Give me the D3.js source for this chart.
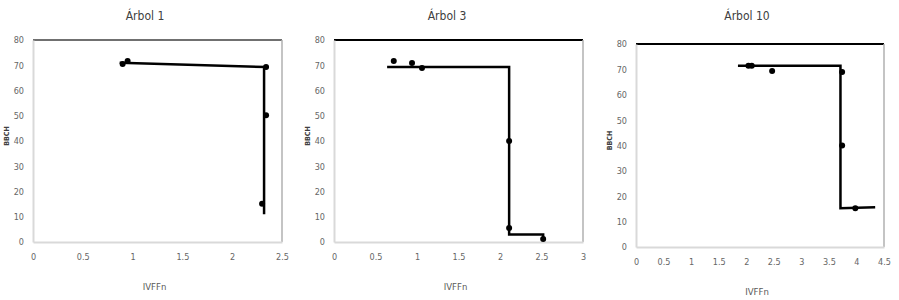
<!DOCTYPE html>
<html>
<head>
<meta charset="utf-8">
<script src="https://cdn.jsdelivr.net/npm/d3@7"></script>
<style>
	body { margin: 0; background: #fff; }
	svg text { font-family: "DejaVu Sans Condensed", "Liberation Sans", sans-serif; font-stretch: condensed; }
</style>
</head>
<body>
<svg id="chart" width="899" height="300"></svg>
<script>
"use strict"

// data
var titles = ["Árbol 1", "Árbol 3", "Árbol 10"];
var xMaxes = [2.5, 3, 4.5];
var yTicks = [0, 10, 20, 30, 40, 50, 60, 70, 80];

var tree1Points = [[0.90, 70.5], [0.95, 71.7], [2.34, 69.3], [2.34, 50.2], [2.30, 15.1]];
var tree1Line = [[0.87, 71], [2.34, 69.3], [2.32, 69.3], [2.32, 11]];

var tree3Points = [[0.72, 71.7], [0.94, 70.9], [1.06, 68.9], [2.11, 40], [2.11, 5.5], [2.52, 1.2]];
var tree3Line = [[0.64, 69.3], [2.11, 69.3], [2.11, 3], [2.52, 3], [2.52, 0.5]];

var tree10Points = [[2.04, 71.4], [2.10, 71.4], [2.47, 69.4], [3.74, 69], [3.74, 40], [3.98, 15.3]];
var tree10Line = [[1.85, 71.4], [3.71, 71.4], [3.71, 15.3], [4.34, 15.7]];

var allPoints = [tree1Points, tree3Points, tree10Points];
var allLines = [tree1Line, tree3Line, tree10Line];

// panel layout
var panels = [
	{left: 33,  right: 282, top: 40, bottom: 242, titleX: 145, topColor: "#707070"},
	{left: 334, right: 583, top: 40, bottom: 242, titleX: 447, topColor: "#000"},
	{left: 636, right: 884, top: 44, bottom: 247, titleX: 747, topColor: "#000"}
];

var svg = d3.select("#chart");

function drawPanel(i) {
	var p = panels[i];
	var x = d3.scaleLinear().domain([0, xMaxes[i]]).range([p.left, p.right]);
	var y = d3.scaleLinear().domain([0, 80]).range([p.bottom, p.top]);
	var g = svg.append("g").attr("id", "panel" + i);

	// frame
	g.append("line")
		.attr("x1", p.left).attr("x2", p.right)
		.attr("y1", p.top).attr("y2", p.top)
		.attr("stroke", p.topColor).attr("stroke-width", 2)
		;
	g.append("line")
		.attr("x1", p.right).attr("x2", p.right)
		.attr("y1", p.top).attr("y2", p.bottom)
		.attr("stroke", "#b0b0b0").attr("stroke-width", 1.5)
		;

	var xTicks = d3.range(0, xMaxes[i] + 0.01, 0.5);
	var xAxis = d3.axisBottom(x).tickValues(xTicks).tickSize(0).tickPadding(12)
		.tickFormat(function(d) { return d3.format("~g")(d); });
	var yAxis = d3.axisLeft(y).tickValues(yTicks).tickSize(0).tickPadding(9);

	var gx = g.append("g").attr("transform", "translate(0," + p.bottom + ")").call(xAxis);
	var gy = g.append("g").attr("transform", "translate(" + p.left + ",0)").call(yAxis);
	[gx, gy].forEach(function(ax) {
		ax.select(".domain").attr("stroke", "#d9d9d9").attr("stroke-width", 2);
		ax.selectAll("text").attr("fill", "#666").style("font-size", "9px");
	});

	// titles
	g.append("text")
		.attr("x", p.titleX).attr("y", 20)
		.attr("text-anchor", "middle")
		.attr("fill", "#404040")
		.style("font-size", "12px")
		.text(titles[i])
		;
	g.append("text")
		.attr("x", (p.left + p.right) / 2 - 3).attr("y", p.bottom + 48)
		.attr("text-anchor", "middle")
		.attr("fill", "#595959")
		.style("font-size", "9.5px")
		.text("IVFFn")
		;
	g.append("text")
		.attr("transform", "translate(" + (p.left - 24) + "," + ((p.top + p.bottom) / 2 - 5) + ") rotate(-90)")
		.attr("text-anchor", "middle")
		.attr("fill", "#404040")
		.style("font-size", "7px")
		.style("font-weight", "bold")
		.text("BBCH")
		;

	// fitted step line
	var line = d3.line().x(function(d) { return x(d[0]); }).y(function(d) { return y(d[1]); });
	g.append("path")
		.datum(allLines[i])
		.attr("d", line)
		.attr("fill", "none")
		.attr("stroke", "#000")
		.attr("stroke-width", 2.5)
		;

	// observed points
	g.selectAll("circle.pt")
		.data(allPoints[i])
		.enter().append("circle")
		.attr("class", "pt")
		.attr("cx", function(d) { return x(d[0]); })
		.attr("cy", function(d) { return y(d[1]); })
		.attr("r", 3)
		.attr("fill", "#000")
		;
}

for (var i = 0; i < panels.length; i++) drawPanel(i);
</script>
</body>
</html>
